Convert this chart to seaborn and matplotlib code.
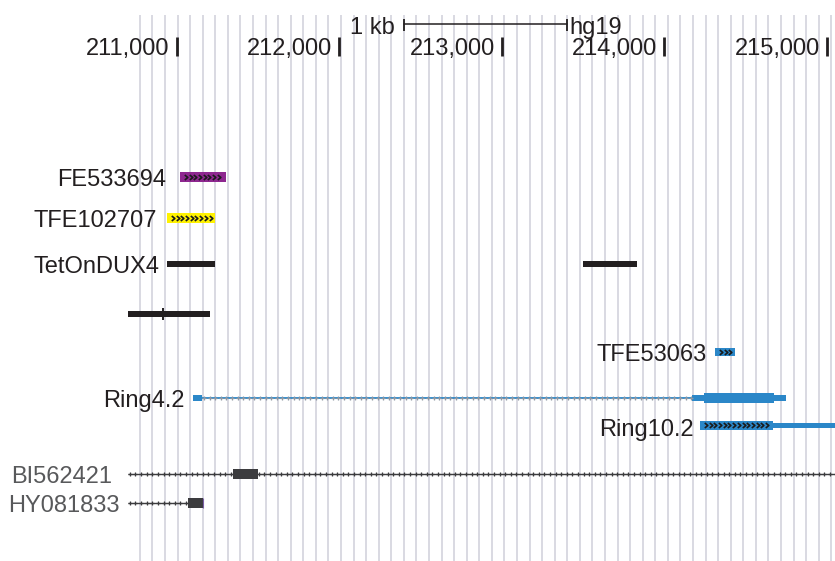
import numpy as np
import matplotlib
matplotlib.use("Agg")
import matplotlib.pyplot as plt
from matplotlib.path import Path
import seaborn as sns

# --- view window (hg19, bp) ---
view_start, view_end = 209913, 215051
pos_ticks = [211000, 212000, 213000, 214000, 215000]
pos_labels = ["211,000", "212,000", "213,000", "214,000", "215,000"]
scale_bar = (212400, 213400)  # 1 kb

# --- features (start, end in bp) ---
fe533694 = [(211020, 211303)]
tfe102707 = [(210940, 211236)]
tetondux4 = [(210940, 211236), (213500, 213833)]
unnamed = [(210700, 211205)]
unnamed_split = 210916
tfe53063 = [(214312, 214435)]
ring42_span = (211156, 214171)
ring42_utr = [(211100, 211156), (214171, 214245), (214676, 214750)]
ring42_cds = [(214245, 214676)]
ring102_cds = [(214220, 214670)]
ring102_utr = [(214670, 215100)]
bi562421_span = (210700, 215100)
bi562421_block = [(211347, 211501)]
hy081833_span = (210700, 211070)
hy081833_block = [(211070, 211162)]

sns.set_style("white")
plt.rcParams['font.family'] = ['Liberation Sans', 'DejaVu Sans']

fig = plt.figure(figsize=(8.35, 5.61), dpi=100)
ax = fig.add_axes([0, 0, 1, 1])
ax.set_xlim(view_start, view_end)
ax.set_ylim(561, 0)
ax.axis("off")

bp_per_px = 1 / 0.1625
DARK = "#231f20"
GRAY_TXT = "#58595b"
PURPLE = "#8e278f"
YELLOW = "#fff200"
BLUE = "#2b87c8"
BLOCKGRAY = "#3c3c3e"
FS = 17

# grid lines (every ~12.6 px, like the browser draws)
grid_x = 210774 + np.arange(56) * 77.35
ax.vlines(grid_x, 15, 561, color="#d3d3dd", lw=1.2, zorder=0)

# scale bar + ruler
ax.plot(scale_bar, [24, 24], color=DARK, lw=1.1, zorder=3)
ax.vlines(scale_bar, 19, 31, color=DARK, lw=1.3, zorder=3)
ax.text(scale_bar[0] - 9 * bp_per_px, 34, "1 kb", ha="right", va="baseline",
        fontsize=FS, color=DARK, zorder=4)
ax.text(scale_bar[1] + 3 * bp_per_px, 34, "hg19", ha="left", va="baseline",
        fontsize=FS, color=DARK, zorder=4)
ax.vlines(pos_ticks, 37, 56, color=DARK, lw=2.0, zorder=3)
for t, lab in zip(pos_ticks, pos_labels):
    ax.text(t - 7 * bp_per_px, 55, lab, ha="right", va="baseline",
            fontsize=FS, color=DARK, zorder=4)

chevron = Path([(-0.45, 0.65), (0.35, 0.0), (-0.45, -0.65)],
               [Path.MOVETO, Path.LINETO, Path.LINETO])


def blocks(spans, yc, h, color, arrows=False, z=2):
    ax.broken_barh([(s, e - s) for s, e in spans], (yc - h / 2, h),
                   facecolors=color, edgecolor="none", zorder=z)
    if arrows:
        for s, e in spans:
            xs = np.arange(s + 6 * bp_per_px, e - 4 * bp_per_px, 4.7 * bp_per_px)
            ax.plot(xs, np.full(len(xs), yc), ls="none", marker=chevron, ms=3.6,
                    mfc="none", mec="#1a1a1a", mew=1.2, zorder=z + 1)


def intron(span, yc, color, tick_color, lw, ms=3.5):
    ax.plot(span, [yc, yc], color=color, lw=lw, zorder=2, solid_capstyle="butt")
    xs = np.arange(span[0] + 2 * bp_per_px, span[1], 5.6 * bp_per_px)
    ax.plot(xs, np.full(len(xs), yc), ls="none", marker="+", ms=ms,
            mec=tick_color, mew=0.9, zorder=3)


def label(x, yc, txt, color=DARK):
    ax.text(x, yc + 8.5, txt, ha="right", va="baseline", fontsize=FS,
            color=color, zorder=4)


# FE533694
blocks(fe533694, 177, 10, PURPLE, arrows=True)
label(fe533694[0][0] - 14 * bp_per_px, 177, "FE533694")
# TFE102707
blocks(tfe102707, 218, 10, YELLOW, arrows=True)
label(tfe102707[0][0] - 10 * bp_per_px, 218, "TFE102707")
# TetOnDUX4
blocks(tetondux4, 264, 6, DARK)
label(tetondux4[0][0] - 7 * bp_per_px, 264, "TetOnDUX4")
# unnamed
blocks(unnamed, 314, 6, DARK)
ax.vlines(unnamed_split, 308, 320, color=DARK, lw=1.4, zorder=3)
# TFE53063
blocks(tfe53063, 352, 8, BLUE, arrows=True)
label(tfe53063[0][0] - 8 * bp_per_px, 352, "TFE53063")
# Ring4.2
intron(ring42_span, 398, BLUE, "#8f98a3", 1.3, ms=3.0)
blocks(ring42_utr, 398, 6, BLUE)
blocks(ring42_cds, 398, 10, BLUE)
label(ring42_utr[0][0] - 8 * bp_per_px, 398, "Ring4.2")
# Ring10.2
blocks(ring102_utr, 425, 5, BLUE)
blocks(ring102_cds, 425, 9, BLUE, arrows=True)
label(ring102_cds[0][0] - 6 * bp_per_px, 427, "Ring10.2")
# BI562421
intron(bi562421_span, 474, BLOCKGRAY, BLOCKGRAY, 1.0)
blocks(bi562421_block, 474, 10, BLOCKGRAY)
label(bi562421_span[0] - 16 * bp_per_px, 474, "BI562421", GRAY_TXT)
# HY081833
intron(hy081833_span, 503, BLOCKGRAY, BLOCKGRAY, 1.0)
blocks(hy081833_block, 503, 10, BLOCKGRAY)
ax.vlines(hy081833_block[0][1], 498, 508, color="#7b5ea7", lw=0.8, zorder=3)
label(hy081833_span[0] - 8 * bp_per_px, 503, "HY081833", GRAY_TXT)

fig.savefig("out.png", dpi=100)
